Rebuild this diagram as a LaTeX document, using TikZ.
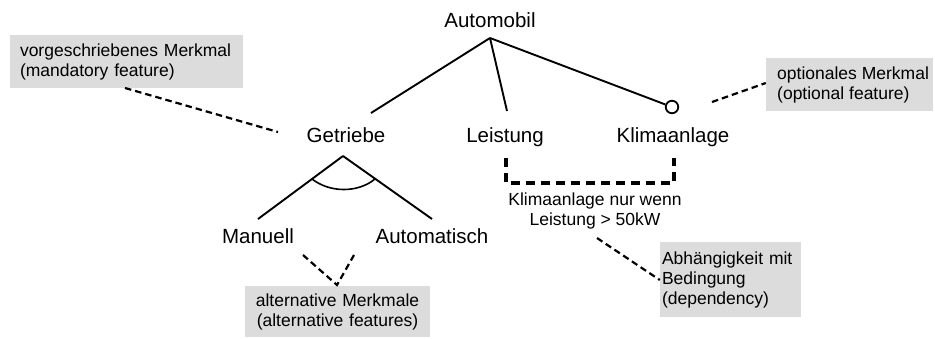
\documentclass[tikz,border=0pt]{standalone}
\usepackage{fontspec}
\setmainfont{Liberation Sans}
\definecolor{notegray}{HTML}{DCDCDC}
\begin{document}
\begin{tikzpicture}[x=1pt,y=-1pt,
  feat/.style={font=\fontsize{20.5}{24}\selectfont, anchor=base, inner sep=0pt},
  note/.style={fill=notegray, font=\fontsize{17.5}{20}\selectfont, inner sep=0pt},
  tree/.style={line width=1.9pt},
  hint/.style={line width=2.2pt, dash pattern=on 6.5pt off 4pt},
  bracket/.style={line width=3.2pt, dash pattern=on 9pt off 6pt},
  optmark/.style={circle, draw, line width=1.8pt, fill=white, minimum size=12.5pt, inner sep=0pt}
  ]
\useasboundingbox (0,0) rectangle (935,338);

% feature nodes
\node[feat] (auto) at (490,27) {Automobil};
\node[feat] (getr) at (346,142) {Getriebe};
\node[feat] (leis) at (505,142) {Leistung};
\node[feat] (klima) at (673,142) {Klimaanlage};
\node[feat] (man) at (258,243) {Manuell};
\node[feat] (autom) at (432,243) {Automatisch};

% attachment points of the tree edges
\coordinate (autoS) at (490,38);
\coordinate (getrN) at (371,113);
\coordinate (leisN) at (507,111);
\node[optmark] (opt) at (672,107) {};
\coordinate (getrS) at (343,156);
\coordinate (manN) at (258,219);
\coordinate (automN) at (432,219);

% tree edges
\draw[tree] (autoS) -- (getrN);
\draw[tree] (autoS) -- (leisN);
\draw[tree] (autoS) -- (opt);
\draw[tree] (getrS) -- (manN);
\draw[tree] (getrS) -- (automN);
% alternative group arc
\coordinate (arcL) at (312,179);
\coordinate (arcR) at (375,179);
\draw[line width=1.6pt] (arcL) .. controls (330,193) and (358,193) .. (arcR);

% annotation boxes
\node[note, text width=213pt, align=left, minimum width=233pt, minimum height=53pt] (mand) at (126.5,61.5)
  {vorgeschriebenes Merkmal\\(mandatory feature)};
\node[note, minimum width=167pt, minimum height=53pt] (optn) at (849.5,84.5) {};
\node[font=\fontsize{17.5}{20}\selectfont, inner sep=0pt, align=left, anchor=west] (optntext) at (777,84.5)
  {optionales Merkmal\\(optional feature)};
\node[note, text width=175pt, align=center, minimum width=185pt, minimum height=51pt] (alt) at (337.5,311.5)
  {alternative Merkmale\\(alternative features)};
\node[note, text width=137pt, align=left, minimum width=141pt, minimum height=75pt] (dep) at (730.5,279.5)
  {Abhängigkeit mit\\Bedingung\\(dependency)};

% dependency constraint text
\node[font=\fontsize{17.5}{19.5}\selectfont, align=center, inner sep=0pt] (cond) at (595,211)
  {Klimaanlage nur wenn\\Leistung > 50kW};

% dependency bracket between Leistung and Klimaanlage
\coordinate (brL) at (506,158);
\coordinate (brR) at (674,158);
\draw[bracket] (brL) -- (506,183) -- (674,183) -- (brR);

% dashed pointers from the notes
\coordinate (mandE) at (125,88);
\coordinate (getrW) at (278,132);
\draw[hint] (mandE) -- (getrW);
\coordinate (optW) at (712,102);
\draw[hint] (optW) -- (optn.west |- 0,83);
\coordinate (manS) at (303,255);
\coordinate (automS) at (354,255);
\coordinate (altN) at (337,285);
\draw[hint] (manS) -- (altN) -- (automS);
\coordinate (condS) at (597,238);
\draw[hint] (condS) -- (dep.west |- 0,280);
\end{tikzpicture}
\end{document}
